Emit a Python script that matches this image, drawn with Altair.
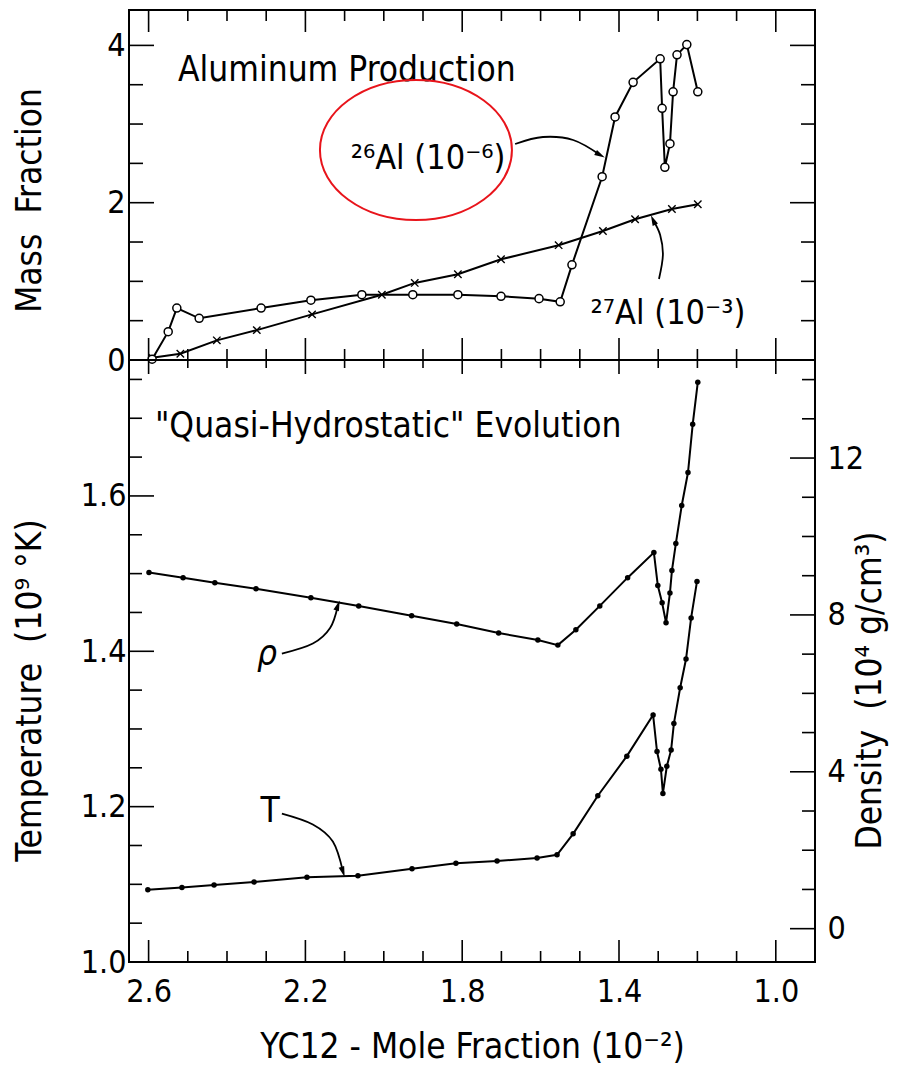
import altair as alt
import pandas as pd

FONT = "DejaVu Sans Condensed, Liberation Sans Narrow, DejaVu Sans"

# ---------------- data ----------------
# 26Al mass fraction (units of 1e-6)
al26_x = [2.591, 2.550, 2.528, 2.471, 2.313, 2.186, 2.056, 1.926, 1.811, 1.701,
          1.604, 1.550, 1.520, 1.443, 1.410, 1.364, 1.295, 1.290, 1.283, 1.270,
          1.262, 1.252, 1.227, 1.199]
al26_y = [0.01, 0.36, 0.66, 0.53, 0.66, 0.76, 0.83, 0.83, 0.83, 0.81,
          0.78, 0.74, 1.21, 2.33, 3.09, 3.53, 3.83, 3.20, 2.45, 2.75,
          3.41, 3.88, 4.01, 3.41]
# 27Al mass fraction (units of 1e-3)
al27_x = [2.591, 2.519, 2.426, 2.324, 2.183, 2.005, 1.921, 1.811, 1.701, 1.554,
          1.441, 1.359, 1.265, 1.199]
al27_y = [0.03, 0.08, 0.25, 0.38, 0.58, 0.83, 0.98, 1.09, 1.28, 1.46,
          1.64, 1.79, 1.92, 1.98]
# density (1e4 g/cm3)
rho_x = [2.599, 2.512, 2.431, 2.326, 2.186, 2.064, 1.929, 1.814, 1.707, 1.607,
         1.556, 1.510, 1.449, 1.378, 1.311, 1.301, 1.290, 1.280, 1.270, 1.265,
         1.255, 1.240, 1.224, 1.212, 1.199]
rho_y = [9.08, 8.95, 8.82, 8.67, 8.44, 8.23, 7.98, 7.77, 7.54, 7.36,
         7.23, 7.62, 8.23, 8.95, 9.59, 8.75, 8.31, 7.80, 8.56, 9.13,
         9.82, 10.79, 11.63, 12.86, 13.93]
# temperature (1e9 K)
t_x = [2.602, 2.515, 2.433, 2.331, 2.196, 2.066, 1.928, 1.816, 1.711, 1.609,
       1.558, 1.517, 1.454, 1.380, 1.313, 1.303, 1.293, 1.288, 1.278, 1.267,
       1.260, 1.244, 1.229, 1.216, 1.201]
t_y = [1.093, 1.096, 1.099, 1.103, 1.109, 1.111, 1.120, 1.127, 1.130, 1.134,
       1.138, 1.165, 1.214, 1.265, 1.318, 1.271, 1.248, 1.217, 1.252, 1.273,
       1.307, 1.353, 1.390, 1.443, 1.490]

# tick positions
x_major = [2.6, 2.2, 1.8, 1.4, 1.0]
x_minor = [2.5, 2.4, 2.3, 2.1, 2.0, 1.9, 1.7, 1.6, 1.5, 1.3, 1.2, 1.1]
mf_major = [0, 2, 4]
mf_minor = [0.5, 1, 1.5, 2.5, 3, 3.5]
t_major = [1.2, 1.4, 1.6]
t_minor = [1.05, 1.1, 1.15, 1.25, 1.3, 1.35, 1.45, 1.5, 1.55, 1.65, 1.7, 1.75]
d_major = [0, 4, 8, 12]
d_minor = [1, 2, 3, 5, 6, 7, 9, 10, 11, 13, 14]

# annotation anchors (data coordinates)
arrow26_x = [1.665, 1.594, 1.517, 1.448]
arrow26_y = [2.746, 2.835, 2.797, 2.606]
arrow27_x = [1.298, 1.288, 1.295, 1.313]
arrow27_y = [1.03, 1.335, 1.589, 1.78]
arrowrho_x = [2.260, 2.181, 2.137, 2.117]
arrowrho_y = [1.397, 1.410, 1.430, 1.459]
arrowT_x = [2.260, 2.181, 2.130, 2.104]
arrowT_y = [1.191, 1.177, 1.155, 1.116]

W = 686
H_TOP = 350
H_BOT = 602
NB = "\u00a0"

xscale = alt.Scale(domain=[0.9, 2.65], reverse=True, nice=False, zero=False)
ytop = alt.Scale(domain=[0, 4.45], nice=False, zero=False)
yT = alt.Scale(domain=[1.0, 1.775], nice=False, zero=False)
yD = alt.Scale(domain=[-0.85, 14.5], nice=False, zero=False)

LBL = dict(labelFont=FONT, labelFontSize=32, labelColor="black",
           titleFont=FONT, titleFontSize=35, titleFontWeight="normal",
           titleColor="black", ticks=False, domain=False, grid=False)


def x_top():
    return alt.X("x:Q", scale=xscale, axis=None)


def x_bot():
    return alt.X("x:Q", scale=xscale,
                 axis=alt.Axis(values=x_major, format=".1f",
                               title="YC12 - Mole Fraction (10⁻²)",
                               labelPadding=14, titlePadding=22, **LBL))


def y_top():
    return alt.Y("y:Q", scale=ytop,
                 axis=alt.Axis(values=mf_major, format="d",
                               title="Mass" + NB + " Fraction",
                               labelPadding=4, titleX=-82, titleY=190, **LBL))


def y_T():
    return alt.Y("y:Q", scale=yT,
                 axis=alt.Axis(values=[1.0] + t_major, format=".1f",
                               title="Temperature" + NB + " (10⁹ °K)",
                               labelPadding=3, titleX=-82, titleY=330, **LBL))


def y_D():
    return alt.Y("y:Q", scale=yD,
                 axis=alt.Axis(values=d_major, format="d", orient="right",
                               title="Density" + NB + " (10⁴ g/cm³)",
                               titleAngle=270,
                               labelPadding=12, titleX=72, titleY=330, **LBL))


def df(xs, ys=None):
    d = {"x": xs, "i": list(range(len(xs)))}
    if ys is not None:
        d["y"] = ys
    return pd.DataFrame(d)


def line(xs, ys, xe, ye, width=2.0):
    return alt.Chart(df(xs, ys)).mark_line(color="black", strokeWidth=width).encode(
        x=xe(), y=ye(), order=alt.Order("i:Q"))


def curve(xs, ys, xe, ye):
    return alt.Chart(df(xs, ys)).mark_line(color="black", strokeWidth=1.8,
                                           interpolate="cardinal").encode(
        x=xe(), y=ye(), order=alt.Order("i:Q"))


def head(xs, ys, xe, ye, angle):
    return alt.Chart(df(xs[-1:], ys[-1:])).mark_point(
        shape="M0,-1L0.55,1L-0.55,1Z", filled=True, color="black", size=110,
        angle=angle, strokeWidth=0, opacity=1).encode(x=xe(), y=ye())


def xticks(vals, xe, h, length, top=False):
    if top:
        return alt.Chart(df(vals)).mark_rule(color="black", strokeWidth=1.6).encode(
            x=xe(), y=alt.value(0), y2=alt.value(length))
    return alt.Chart(df(vals)).mark_rule(color="black", strokeWidth=1.6).encode(
        x=xe(), y=alt.value(h), y2=alt.value(h - length))


def yticks(vals, ye, length, right=False):
    if right:
        return alt.Chart(df(vals, vals)).mark_rule(color="black", strokeWidth=1.6).encode(
            y=ye(), x=alt.value(W), x2=alt.value(W - length))
    return alt.Chart(df(vals, vals)).mark_rule(color="black", strokeWidth=1.6).encode(
        y=ye(), x=alt.value(0), x2=alt.value(length))


def label(txt, x, y, xe, ye, size=31, align="center", style="normal", baseline="middle"):
    return alt.Chart(df([x], [y])).mark_text(
        text=txt, font=FONT, fontSize=size, align=align, baseline=baseline,
        fontStyle=style, color="black").encode(x=xe(), y=ye())


# ---------------- top panel ----------------
al26_pts = alt.Chart(df(al26_x, al26_y)).mark_point(
    shape="circle", filled=True, fill="white", stroke="black", strokeWidth=1.5,
    size=65, opacity=1).encode(x=x_top(), y=y_top())
al27_pts = alt.Chart(df(al27_x, al27_y)).mark_point(
    shape="M-1,-1L1,1M-1,1L1,-1", filled=False, stroke="black", strokeWidth=1.4,
    size=55, opacity=1).encode(x=x_top(), y=y_top())

ellipse = alt.Chart(df([1.918], [2.67])).mark_point(
    shape="M-1,0A1,0.73,0,1,1,1,0A1,0.73,0,1,1,-1,0Z", filled=False,
    stroke="#e8141b", strokeWidth=2, size=192 * 192, opacity=1).encode(
    x=x_top(), y=y_top())

top = alt.layer(
    xticks(x_major, x_top, H_TOP, 22), xticks(x_minor, x_top, H_TOP, 11),
    xticks(x_major, x_top, H_TOP, 22, top=True), xticks(x_minor, x_top, H_TOP, 11, top=True),
    yticks(mf_major, y_top, 25), yticks(mf_minor, y_top, 14),
    yticks(mf_major, y_top, 25, right=True), yticks(mf_minor, y_top, 14, right=True),
    line(al27_x, al27_y, x_top, y_top), al27_pts,
    line(al26_x, al26_y, x_top, y_top), al26_pts,
    label("Aluminum Production", 2.525, 3.55, x_top, y_top, size=35, align="left",
          baseline="alphabetic"),
    label("²⁶Al (10⁻⁶)", 1.887, 2.43, x_top, y_top, size=34, baseline="alphabetic"),
    label("²⁷Al (10⁻³)", 1.275, 0.46, x_top, y_top, size=34, baseline="alphabetic"),
    curve(arrow26_x, arrow26_y, x_top, y_top), head(arrow26_x, arrow26_y, x_top, y_top, 119),
    curve(arrow27_x, arrow27_y, x_top, y_top), head(arrow27_x, arrow27_y, x_top, y_top, 335),
    ellipse,
).properties(width=W, height=H_TOP)

# ---------------- bottom panel ----------------
t_pts = alt.Chart(df(t_x, t_y)).mark_circle(color="black", size=30, opacity=1).encode(
    x=x_bot(), y=y_T())
rho_pts = alt.Chart(df(rho_x, rho_y)).mark_circle(color="black", size=30, opacity=1).encode(
    x=x_bot(), y=y_D())

left = alt.layer(
    xticks(x_major, x_bot, H_BOT, 22), xticks(x_minor, x_bot, H_BOT, 11),
    xticks(x_major, x_bot, H_BOT, 14, top=True), xticks(x_minor, x_bot, H_BOT, 8, top=True),
    yticks(t_major, y_T, 25), yticks(t_minor, y_T, 13),
    line(t_x, t_y, x_bot, y_T), t_pts,
    label("\"Quasi-Hydrostatic\" Evolution", 1.989, 1.676, x_bot, y_T, size=35,
          baseline="alphabetic"),
    label("ρ", 2.298, 1.397, x_bot, y_T, size=35, style="italic"),
    label("T", 2.290, 1.194, x_bot, y_T, size=35),
    curve(arrowrho_x, arrowrho_y, x_bot, y_T), head(arrowrho_x, arrowrho_y, x_bot, y_T, 20),
    curve(arrowT_x, arrowT_y, x_bot, y_T), head(arrowT_x, arrowT_y, x_bot, y_T, 162),
)
right = alt.layer(
    yticks(d_major, y_D, 25, right=True), yticks(d_minor, y_D, 13, right=True),
    line(rho_x, rho_y, x_bot, y_D), rho_pts,
)
bottom = alt.layer(left, right).resolve_scale(y="independent").properties(
    width=W, height=H_BOT)

chart = alt.vconcat(top, bottom, spacing=0, bounds="flush").configure_view(
    stroke="black", strokeWidth=2).properties(
    padding={"left": 3, "top": 0, "right": 5, "bottom": 0},
    background="white")

chart.save("out.html", embed_options={"renderer": "svg", "actions": False})
